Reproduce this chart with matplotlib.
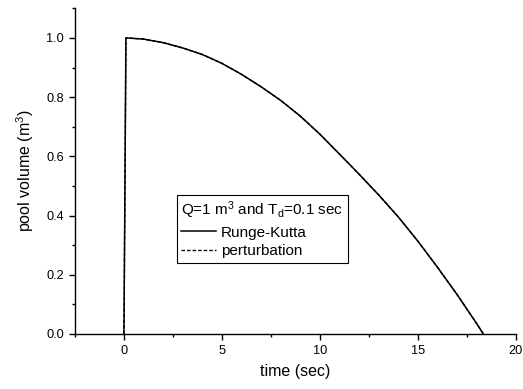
import numpy as np
import matplotlib
matplotlib.use("Agg")
import matplotlib.pyplot as plt
from matplotlib.ticker import MultipleLocator

plt.rcParams['font.family'] = ['Liberation Sans', 'DejaVu Sans']
plt.rcParams['mathtext.default'] = 'regular'

# values
t_rk = [0, 0.1, 1, 2, 3, 4, 5, 6, 7, 8, 9, 10, 11, 12, 13, 14, 15, 16, 17, 18, 18.35]
v_rk = [0, 1.0, 0.996, 0.984, 0.966, 0.944, 0.914, 0.877, 0.835, 0.789, 0.736, 0.675,
        0.608, 0.540, 0.470, 0.396, 0.314, 0.226, 0.134, 0.036, 0.0]
t_pert = t_rk
v_pert = v_rk

fig = plt.figure(figsize=(5.23, 3.89), dpi=100)
ax = fig.add_axes([0.1434, 0.1414, 0.9860 - 0.1434, 0.9787 - 0.1414])

ax.plot(t_rk, v_rk, color='black', lw=1.1, label='Runge-Kutta')
ax.plot(t_pert, v_pert, color='black', lw=1.0, ls=(0, (2.5, 1.5)), label='perturbation')

ax.set_xlim(-2.5, 20)
ax.set_ylim(0, 1.1)
ax.xaxis.set_major_locator(MultipleLocator(5))
ax.xaxis.set_minor_locator(MultipleLocator(2.5))
ax.yaxis.set_major_locator(MultipleLocator(0.2))
ax.yaxis.set_minor_locator(MultipleLocator(0.1))
ax.yaxis.set_major_formatter(plt.FuncFormatter(lambda v, p: '%.1f' % v))

for s in ['top', 'right']:
    ax.spines[s].set_visible(False)
for s in ['left', 'bottom']:
    ax.spines[s].set_linewidth(1.0)
ax.tick_params(which='major', direction='out', length=4, width=1, labelsize=9.2, pad=4)
ax.tick_params(which='minor', direction='out', length=2.5, width=1)

ax.set_xlabel('time (sec)', fontsize=11.5, labelpad=5)
ax.set_ylabel('pool volume (m$^3$)', fontsize=11.5, labelpad=7)

leg = ax.legend(title='Q=1 m$^3$ and T$_d$=0.1 sec', loc='upper left',
                bbox_to_anchor=(0.338, 0.4987), bbox_transform=fig.transFigure,
                borderaxespad=0, fancybox=False, framealpha=1, edgecolor='black',
                fontsize=11, title_fontsize=11, handlelength=2.3, handletextpad=0.3,
                labelspacing=0.3, borderpad=0.3, alignment='left')
leg.get_frame().set_linewidth(0.8)

fig.savefig('out.png', dpi=100)
